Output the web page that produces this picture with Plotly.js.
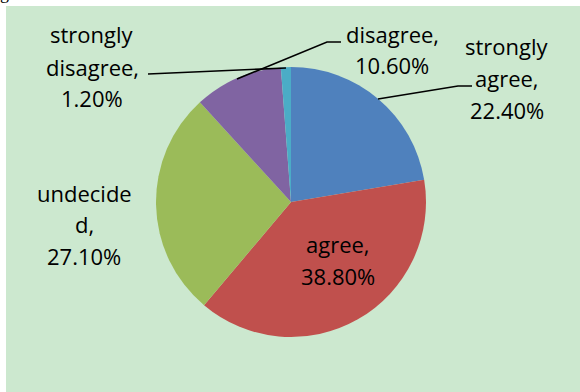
<!DOCTYPE html>
<html>
<head>
<meta charset="utf-8">
<script src="https://cdn.plot.ly/plotly-3.0.1.min.js"></script>
<style>
  html, body { margin: 0; padding: 0; background: #ffffff; }
  #chart { width: 580px; height: 392px; }
</style>
</head>
<body>
<div id="chart"></div>
<script>
// ---- data ----
const categories = ["strongly agree", "agree", "undecided", "disagree", "strongly disagree"];
const values = [22.4, 38.8, 27.1, 10.6, 1.2];
// label text as wrapped in the original chart
const labelLines = [["strongly", "agree,"], ["agree,"], ["undecide", "d,"], ["disagree,"], ["strongly", "disagree,"]];
const colors = ["#4F81BD", "#C0504D", "#9BBB59", "#8064A2", "#4BACC6"];

// ---- layout helpers (pixel -> paper) ----
const W = 580, H = 392;
const px = x => x / W;
const py = y => 1 - y / H;

// label placement (pixel centres of the first line, line spacing) per slice
const labelPos = [
  {x: 507, y: 45.5, dy: 32},
  {x: 338, y: 244.5, dy: 31},
  {x: 84,  y: 192.5, dy: 31.5},
  {x: 392, y: 33.5, dy: 32},
  {x: 92,  y: 34.5, dy: 32}
];

const font = {family: "Open Sans, sans-serif", size: 22, color: "#000000"};
const annotations = [];
categories.forEach((c, i) => {
  const lines = labelLines[i].concat([values[i].toFixed(2) + "%"]);
  lines.forEach((t, k) => {
    annotations.push({
      xref: "paper", yref: "paper",
      x: px(labelPos[i].x), y: py(labelPos[i].y + k * labelPos[i].dy),
      xanchor: "center", yanchor: "middle",
      text: t, showarrow: false, font: font
    });
  });
});
// cropped glyph from surrounding document at the top-left corner
annotations.push({
  xref: "paper", yref: "paper", x: px(4), y: py(-7), xanchor: "center", yanchor: "middle",
  text: "g", showarrow: false, font: {family: "Liberation Serif, serif", size: 18, color: "#000"}
});

const lineStyle = {color: "#000000", width: 1.6};
const path = pts => "M " + pts.map(p => px(p[0]) + "," + py(p[1])).join(" L ");
const shapes = [
  {type: "rect", xref: "paper", yref: "paper", x0: px(6), x1: px(W), y0: py(H), y1: py(6),
   fillcolor: "#CCE8CF", line: {width: 0}, layer: "below"},
  // leader lines
  {type: "path", xref: "paper", yref: "paper", path: path([[378, 99], [458, 86], [472, 86]]), line: lineStyle},
  {type: "path", xref: "paper", yref: "paper", path: path([[237, 79], [327, 42], [341, 42]]), line: lineStyle},
  {type: "path", xref: "paper", yref: "paper", path: path([[148, 74], [286, 68]]), line: lineStyle}
];

const cx = 291, cy = 202, r = 135;
const trace = {
  type: "pie",
  labels: categories,
  values: values,
  sort: false,
  direction: "clockwise",
  rotation: 0,
  textinfo: "none",
  hoverinfo: "label+percent",
  marker: {colors: colors, line: {width: 0}},
  domain: {x: [px(cx - r), px(cx + r)], y: [py(cy + r), py(cy - r)]},
  showlegend: false
};

const layout = {
  width: W, height: H,
  margin: {l: 0, r: 0, t: 0, b: 0},
  paper_bgcolor: "#ffffff",
  showlegend: false,
  shapes: shapes,
  annotations: annotations
};

Plotly.newPlot("chart", [trace], layout, {displayModeBar: false, staticPlot: true});
</script>
</body>
</html>
